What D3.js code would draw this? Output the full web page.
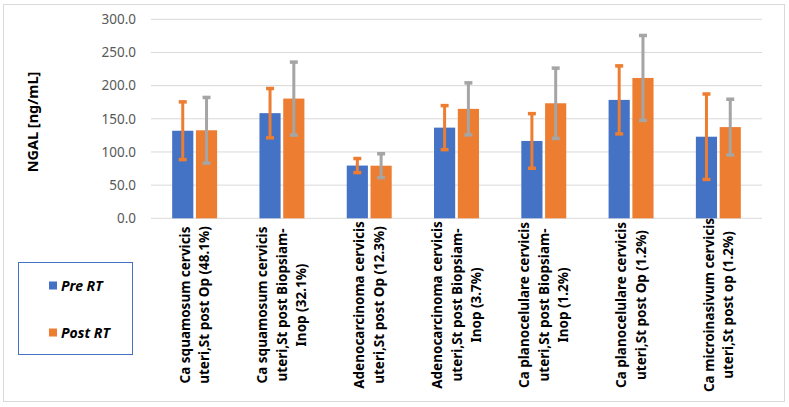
<!DOCTYPE html>
<html>
<head>
<meta charset="utf-8">
<script src="https://cdn.jsdelivr.net/npm/d3@7"></script>
<style>
    body { margin: 0; background: #fff; }
    text { font-family: "Noto Sans", "Open Sans", sans-serif; }
</style>
</head>
<body>
<div id="chart"></div>
<script>
var categories = [
    ["Ca squamosum cervicis", "uteri,St post Op (48.1%)"],
    ["Ca squamosum cervicis", "uteri,St post Biopsiam-", "Inop (32.1%)"],
    ["Adenocarcinoma cervicis", "uteri,St post Op (12.3%)"],
    ["Adenocarcinoma cervicis", "uteri,St post Biopsiam-", "Inop (3.7%)"],
    ["Ca planocelulare cervicis", "uteri,St post Biopsiam-", "Inop (1.2%)"],
    ["Ca planocelulare cervicis", "uteri,St post Op (1.2%)"],
    ["Ca microinasivum cervicis", "uteri,St post op (1.2%)"]
];
var seriesNames = ["Pre RT", "Post RT"];
var preRT = [132, 158.5, 79.5, 136.7, 116.6, 178.5, 123];
var preErr = [43.5, 37.2, 10.6, 33.2, 41.2, 51.3, 64.4];
var postRT = [132.7, 180.5, 79.3, 165, 173.4, 211.6, 137.5];
var postErr = [49.5, 55, 18, 39.2, 53, 64, 42];
var yTicks = [0, 50, 100, 150, 200, 250, 300];

var width = 789, height = 407;
var plot = { left: 151, right: 762, top: 19.3, bottom: 218.3 };

var barColors = ["#4472c4", "#ed7d31"];
var errColors = ["#ed7d31", "#a5a5a5"];

var svg = d3.select("#chart")
    .append("svg")
    .attr("width", width)
    .attr("height", height);

// outer frame
svg.append("rect")
    .attr("x", 3.5)
    .attr("y", 4.5)
    .attr("width", 781)
    .attr("height", 397)
    .style("fill", "none")
    .style("stroke", "#d9d9d9");

var x0 = d3.scaleBand()
    .domain(d3.range(categories.length))
    .range([plot.left, plot.right])
    .paddingInner(0.485)
    .paddingOuter(0.2425);

var x1 = d3.scaleBand()
    .domain([0, 1])
    .range([0, x0.bandwidth()])
    .paddingInner(0.11);

var y = d3.scaleLinear()
    .domain([0, 300])
    .range([plot.bottom, plot.top]);

// gridlines
svg.selectAll("grid")
    .data(yTicks)
    .enter()
    .append("line")
    .attr("x1", plot.left)
    .attr("x2", plot.right)
    .attr("y1", function (d) { return y(d); })
    .attr("y2", function (d) { return y(d); })
    .style("stroke", "#d9d9d9")
    .style("stroke-width", 1);

// y axis labels
var yAxis = d3.axisLeft(y)
    .tickValues(yTicks)
    .tickFormat(d3.format(".1f"))
    .tickSize(0)
    .tickPadding(15);

var ya = svg.append("g")
    .attr("transform", "translate(" + plot.left + ",0)")
    .call(yAxis);
ya.select(".domain").remove();
ya.selectAll("text")
    .style("font-family", "'Noto Sans', sans-serif")
    .style("font-size", "13.5px")
    .style("fill", "#595959");

svg.append("text")
    .attr("transform", "translate(38,122) rotate(-90)")
    .attr("text-anchor", "middle")
    .style("font-size", "14.5px")
    .style("font-weight", "bold")
    .style("fill", "#000")
    .text("NGAL [ng/mL]");

var rows = categories.map(function (c, i) {
    return [
        { cat: i, s: 0, v: preRT[i], e: preErr[i] },
        { cat: i, s: 1, v: postRT[i], e: postErr[i] }
    ];
});
var marks = [].concat.apply([], rows);

// bars
svg.selectAll("bars")
    .data(marks)
    .enter()
    .append("rect")
    .attr("x", function (d) { return x0(d.cat) + x1(d.s); })
    .attr("y", function (d) { return y(d.v); })
    .attr("width", x1.bandwidth())
    .attr("height", function (d) { return y(0) - y(d.v); })
    .style("fill", function (d) { return barColors[d.s]; });

// error bars
var err = svg.selectAll("errs")
    .data(marks)
    .enter()
    .append("g")
    .attr("transform", function (d) {
        return "translate(" + (x0(d.cat) + x1(d.s) + x1.bandwidth() / 2) + ",0)";
    })
    .style("stroke", function (d) { return errColors[d.s]; });

err.append("line")
    .attr("y1", function (d) { return y(d.v + d.e); })
    .attr("y2", function (d) { return y(d.v - d.e); })
    .style("stroke-width", 3);

err.selectAll("cap")
    .data(function (d) { return [d.v + d.e, d.v - d.e]; })
    .enter()
    .append("line")
    .attr("x1", -4)
    .attr("x2", 4)
    .attr("y1", function (d) { return y(d); })
    .attr("y2", function (d) { return y(d); })
    .style("stroke-width", 3.5);

// category labels
var labels = svg.selectAll("xlabels")
    .data(categories)
    .enter()
    .append("text")
    .attr("transform", function (d, i) {
        return "translate(" + (x0(i) + x0.bandwidth() / 2) + ",305) rotate(-90)";
    })
    .attr("text-anchor", "middle")
    .style("font-size", "13.5px")
    .style("font-weight", "bold")
    .style("fill", "#000");

labels.selectAll("tspan")
    .data(function (d) {
        return d.map(function (t, j) { return { t: t, j: j, n: d.length }; });
    })
    .enter()
    .append("tspan")
    .attr("x", 0)
    .attr("y", function (d) { return (d.j - (d.n - 1) / 2) * 19.5 + 5; })
    .text(function (d) { return d.t; });

// legend
svg.append("rect")
    .attr("x", 18.5)
    .attr("y", 262.5)
    .attr("width", 114)
    .attr("height", 92)
    .style("fill", "none")
    .style("stroke", "#4472c4");

var legendY = [285.5, 332.5];

svg.selectAll("lsq")
    .data(seriesNames)
    .enter()
    .append("rect")
    .attr("x", 49)
    .attr("y", function (d, i) { return legendY[i] - 4; })
    .attr("width", 8)
    .attr("height", 8)
    .style("fill", function (d, i) { return barColors[i]; });

svg.selectAll("ltxt")
    .data(seriesNames)
    .enter()
    .append("text")
    .attr("x", 61)
    .attr("y", function (d, i) { return legendY[i] + 5; })
    .style("font-size", "14px")
    .style("font-weight", "bold")
    .style("font-style", "italic")
    .style("fill", "#000")
    .text(function (d) { return d; });
</script>
</body>
</html>
